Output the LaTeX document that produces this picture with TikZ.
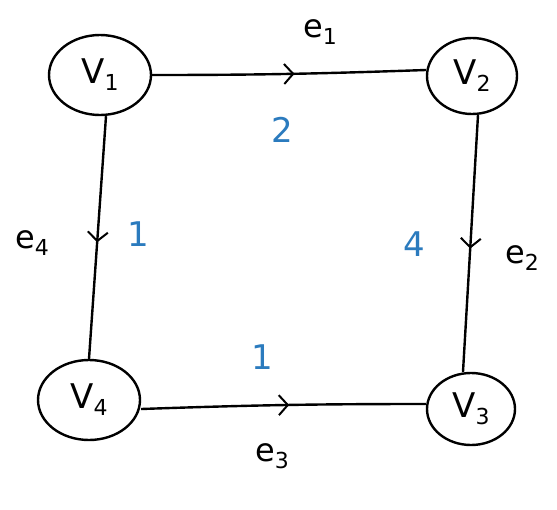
\documentclass[tikz,border=0pt]{standalone}
\usepackage{fontspec}
\setmainfont{DejaVu Sans}
\usetikzlibrary{decorations.markings,arrows.meta,shapes.geometric}
\definecolor{wblue}{HTML}{2B7BBE}
\newcommand{\sbs}[1]{\raisebox{-7pt}{\fontsize{22}{22}\selectfont #1}}
\tikzset{
  vert/.style={draw, line width=2.4pt, ellipse, inner sep=0pt, font=\fontsize{34}{34}\selectfont},
  edge/.style={line width=2.4pt, postaction={decorate}, decoration={markings, mark=at position 0.52 with {\arrow[line width=2pt]{Straight Barb[length=9pt,width=20pt]}}}},
  elab/.style={font=\fontsize{32}{32}\selectfont},
  wlab/.style={text=wblue, font=\fontsize{34}{34}\selectfont},
}
\begin{document}
\begin{tikzpicture}[x=1pt,y=-1pt]
\useasboundingbox (0,0) rectangle (557,509);
\node[vert, minimum width=102pt, minimum height=80pt] (v1) at (100,75) {V\sbs{1}};
\node[vert, minimum width=90pt, minimum height=76pt] (v2) at (472,76) {V\sbs{2}};
\node[vert, minimum width=102pt, minimum height=80pt] (v4) at (89,400) {V\sbs{4}};
\node[vert, minimum width=88pt, minimum height=72pt] (v3) at (471,409) {V\sbs{3}};
\draw[edge] (v1.east) to[out=0,in=182] ([yshift=6pt]v2.west);
\draw[edge] ([xshift=6pt]v2.south) -- ([xshift=-8pt]v3.north);
\draw[edge] ([xshift=6pt]v1.south) -- (v4.north);
\draw[edge] ([yshift=-9pt]v4.east) to[out=2,in=180] ([yshift=5pt]v3.west);
\node[elab] (le1) at (320,32) {e\sbs{1}};
\node[elab] (le2) at (522,258) {e\sbs{2}};
\node[elab] (le3) at (272,456) {e\sbs{3}};
\node[elab] (le4) at (32,243) {e\sbs{4}};
\node[wlab] (w1) at (282,130) {2};
\node[wlab] (w2) at (414,244) {4};
\node[wlab] (w3) at (262,357) {1};
\node[wlab] (w4) at (138,234) {1};
\end{tikzpicture}
\end{document}
